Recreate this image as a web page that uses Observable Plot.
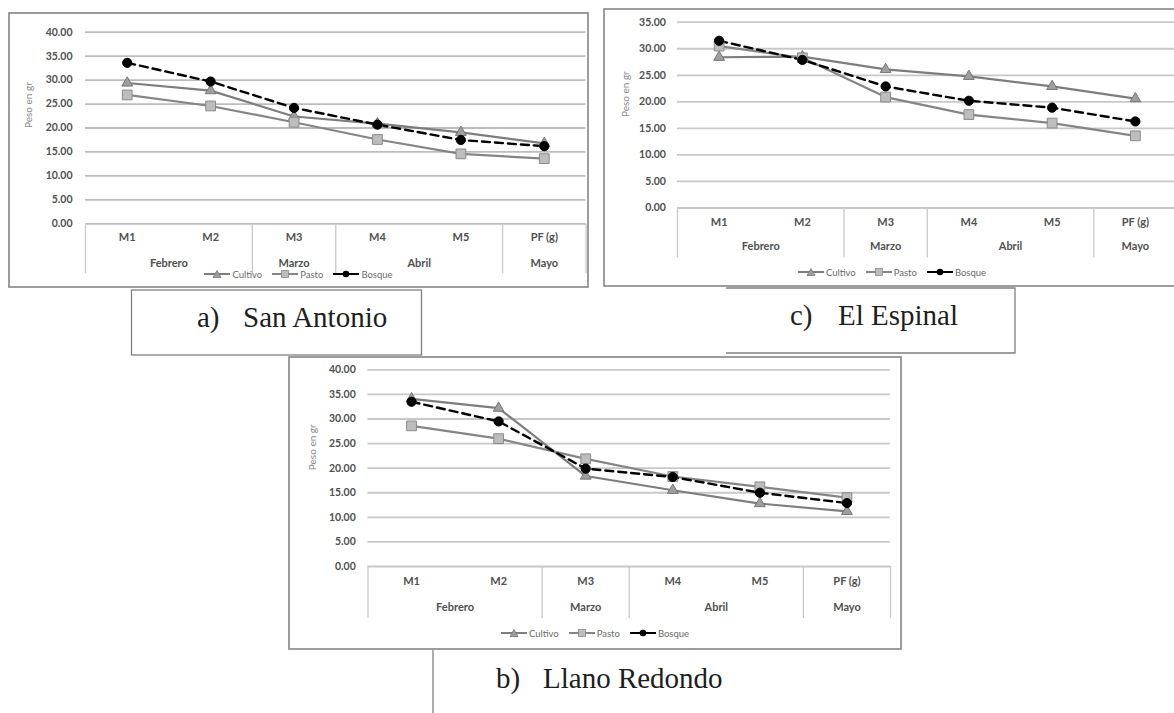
<!DOCTYPE html>
<html>
<head>
<meta charset="utf-8">
<script src="https://cdn.jsdelivr.net/npm/d3@7"></script>
<script src="https://cdn.jsdelivr.net/npm/@observablehq/plot@0.6"></script>
<style>
  html, body { margin: 0; padding: 0; background: #fff; }
  #page { position: relative; width: 1174px; height: 713px; overflow: hidden; background: #fff; }
  .panel { position: absolute; }
  .panel svg { overflow: visible; display: block; }
  .legend { position: absolute; left: 0; right: 0; display: flex; justify-content: center; align-items: center;
            font-family: Lato, "Open Sans", sans-serif; font-size: 9.5px; color: #6b6b6b; height: 12px; }
  .legend .item { display: flex; align-items: center; margin: 0 5px; }
  .legend svg { margin-right: 2px; }
  #overlay { position: absolute; left: 0; top: 0; pointer-events: none; }
</style>
</head>
<body>
<div id="page"></div>
<script>
// ---------- data ----------
const categories = ["M1", "M2", "M3", "M4", "M5", "PF (g)"];
const months = ["Febrero", "Febrero", "Marzo", "Abril", "Abril", "Mayo"];
const seriesNames = ["Cultivo", "Pasto", "Bosque"];
const yTickValues = [0, 5, 10, 15, 20, 25, 30, 35, 40];
const yTitle = "Peso en gr";

const sanAntonioCultivo = [29.4, 27.8, 22.4, 20.9, 19.1, 16.8];
const sanAntonioPasto   = [26.9, 24.6, 21.2, 17.6, 14.6, 13.6];
const sanAntonioBosque  = [33.6, 29.7, 24.2, 20.7, 17.5, 16.2];

const elEspinalCultivo = [28.4, 28.5, 26.1, 24.8, 22.9, 20.6];
const elEspinalPasto   = [30.5, 28.3, 20.9, 17.6, 16.0, 13.6];
const elEspinalBosque  = [31.5, 27.9, 22.9, 20.2, 18.9, 16.3];

const llanoRedondoCultivo = [34.1, 32.2, 18.4, 15.5, 12.8, 11.2];
const llanoRedondoPasto   = [28.6, 26.0, 21.9, 18.3, 16.2, 14.0];
const llanoRedondoBosque  = [33.5, 29.5, 19.9, 18.2, 15.0, 12.9];

const panelLabels = [
  {tag: "a)", name: "San Antonio"},
  {tag: "c)", name: "El Espinal"},
  {tag: "b)", name: "Llano Redondo"}
];

// ---------- styles ----------
const style = {
  Cultivo: {stroke: "#7d7d7d", width: 2.2, dash: null, symbol: "triangle", fill: "#9e9e9e", mstroke: "#777", r: 4},
  Pasto:   {stroke: "#858585", width: 2.2, dash: null, symbol: "square", fill: "#bdbdbd", mstroke: "#8a8a8a", r: 5.5},
  Bosque:  {stroke: "#000000", width: 2.4, dash: "8,5", symbol: "circle", fill: "#000", mstroke: "#000", r: 4.6}
};

// month groups from the months array
const groups = [];
months.forEach((m, i) => {
  const last = groups[groups.length - 1];
  if (last && last.name === m) last.end = i + 1;
  else groups.push({name: m, start: i, end: i + 1});
});
const bounds = [0, ...groups.map(g => g.end)];

const page = document.getElementById("page");

function makePanel(cfg) {
  const values = {Cultivo: cfg.cultivo, Pasto: cfg.pasto, Bosque: cfg.bosque};
  const rows = [];
  seriesNames.forEach(s => categories.forEach((c, i) => rows.push({series: s, cat: c, i, v: values[s][i]})));
  const ticks = yTickValues.filter(t => t <= cfg.yMax);
  const innerH = cfg.height - cfg.mt - cfg.mb;
  const font = "Lato, 'Open Sans', sans-serif";
  const marks = [
    Plot.ruleY(ticks, {stroke: cfg.grid, strokeWidth: 1.8}),
    Plot.ruleX(bounds, {x: d => d, insetTop: innerH, insetBottom: -cfg.sepLen, stroke: "#c9c9c9", strokeWidth: 1.3}),
    Plot.axisY({ticks, tickSize: 0, tickPadding: cfg.tickPad, tickFormat: d3.format(".2f"),
                fontWeight: "bold", fontSize: 10.5, fill: "#505050", label: null}),
    Plot.text([yTitle], {frameAnchor: "left", rotate: -90, dx: -cfg.titleOffset, dy: cfg.titleDy,
                         fontSize: 10, fill: "#8a8a8a"}),
    Plot.text(categories, {x: (d, i) => i + 0.5, frameAnchor: "bottom", dy: cfg.catDy,
                           fontWeight: "bold", fontSize: 11, fill: "#505050"}),
    Plot.text(groups, {x: d => (d.start + d.end) / 2, text: d => d.name, frameAnchor: "bottom", dy: cfg.monthDy,
                       fontWeight: "bold", fontSize: 11, fill: "#505050"})
  ];
  seriesNames.forEach(s => {
    const st = style[s];
    const data = rows.filter(d => d.series === s);
    marks.push(Plot.line(data, {x: d => d.i + 0.5, y: "v", stroke: st.stroke, strokeWidth: st.width,
                                strokeDasharray: st.dash || undefined}));
  });
  seriesNames.forEach(s => {
    const st = style[s];
    const data = rows.filter(d => d.series === s);
    marks.push(Plot.dot(data, {x: d => d.i + 0.5, y: "v", symbol: st.symbol, r: st.r,
                               fill: st.fill, stroke: st.mstroke, strokeWidth: 1}));
  });
  const chart = Plot.plot({
    width: cfg.width, height: cfg.height,
    marginLeft: cfg.ml, marginRight: cfg.mr, marginTop: cfg.mt, marginBottom: cfg.mb,
    x: {type: "linear", domain: [0, categories.length], axis: null},
    y: {domain: [0, cfg.yMax], axis: null},
    style: {fontFamily: font, background: "transparent", overflow: "visible"},
    marks
  });
  const div = document.createElement("div");
  div.className = "panel";
  div.style.left = cfg.left + "px";
  div.style.top = cfg.top + "px";
  div.style.width = cfg.width + "px";
  div.style.height = cfg.height + "px";
  div.appendChild(chart);
  // legend
  const leg = document.createElement("div");
  leg.className = "legend";
  leg.style.top = (cfg.legendY - 6) + "px";
  seriesNames.forEach(s => {
    const st = style[s];
    const item = document.createElement("div");
    item.className = "item";
    let sym;
    if (st.symbol === "triangle") sym = `<path d="M13,1.5 L17,8.5 L9,8.5 Z" fill="${st.fill}" stroke="${st.mstroke}" stroke-width="0.8"/>`;
    else if (st.symbol === "square") sym = `<rect x="9.5" y="1.5" width="7" height="7" fill="${st.fill}" stroke="${st.mstroke}" stroke-width="0.8"/>`;
    else sym = `<circle cx="13" cy="5" r="3.3" fill="#000"/>`;
    item.innerHTML = `<svg width="26" height="10"><line x1="0" y1="5" x2="26" y2="5" stroke="${s === 'Bosque' ? '#000' : st.stroke}" stroke-width="2"/>${sym}</svg><span>${s}</span>`;
    leg.appendChild(item);
  });
  div.appendChild(leg);
  page.appendChild(div);
}

makePanel({ // a) San Antonio
  cultivo: sanAntonioCultivo, pasto: sanAntonioPasto, bosque: sanAntonioBosque, yMax: 40, grid: "#bcbcbc",
  left: 9, top: 13, width: 579, height: 274, ml: 76, mr: 2.5, mt: 18.7, mb: 63.7,
  tickPad: 13, titleOffset: 57, titleDy: 0, catDy: 17, monthDy: 43, sepLen: 50, legendY: 261
});
makePanel({ // c) El Espinal
  cultivo: elEspinalCultivo, pasto: elEspinalPasto, bosque: elEspinalBosque, yMax: 35, grid: "#c8c8c8",
  left: 604, top: 9, width: 576, height: 277, ml: 73, mr: 3.5, mt: 12.7, mb: 78.5,
  tickPad: 11.6, titleOffset: 52, titleDy: 2, catDy: 18, monthDy: 42, sepLen: 50, legendY: 263
});
makePanel({ // b) Llano Redondo
  cultivo: llanoRedondoCultivo, pasto: llanoRedondoPasto, bosque: llanoRedondoBosque, yMax: 40, grid: "#c8c8c8",
  left: 289, top: 357, width: 612, height: 292, ml: 78.5, mr: 11, mt: 12.3, mb: 83,
  tickPad: 12.2, titleOffset: 55.7, titleDy: 2, catDy: 18, monthDy: 44, sepLen: 52, legendY: 276
});

// ---------- frames and panel captions ----------
const ns = "http://www.w3.org/2000/svg";
const ov = document.createElementNS(ns, "svg");
ov.setAttribute("id", "overlay");
ov.setAttribute("width", 1174);
ov.setAttribute("height", 713);
const frameColor = "#8c8c8c";
ov.innerHTML = `
  <rect x="9" y="13" width="579" height="274" fill="none" stroke="${frameColor}" stroke-width="1.7"/>
  <rect x="604" y="9" width="576" height="277" fill="none" stroke="${frameColor}" stroke-width="1.7"/>
  <rect x="289" y="357" width="612" height="292" fill="none" stroke="${frameColor}" stroke-width="1.7"/>
  <rect x="131.5" y="290" width="290" height="65" fill="none" stroke="#808080" stroke-width="1.3"/>
  <path d="M726,288 H1015 V353 H726" fill="none" stroke="#808080" stroke-width="1.3"/>
  <line x1="433" y1="650" x2="433" y2="713" stroke="#808080" stroke-width="1.3"/>
`;
const captions = [
  {lab: panelLabels[0], tx: 197, nx: 243, y: 327},
  {lab: panelLabels[1], tx: 790, nx: 838, y: 325},
  {lab: panelLabels[2], tx: 496, nx: 543, y: 688}
];
captions.forEach(c => {
  [[c.lab.tag, c.tx], [c.lab.name, c.nx]].forEach(([t, x]) => {
    const el = document.createElementNS(ns, "text");
    el.setAttribute("x", x);
    el.setAttribute("y", c.y);
    el.setAttribute("font-family", "'Liberation Serif', 'Times New Roman', serif");
    el.setAttribute("font-size", "29");
    el.setAttribute("fill", "#1e1e1e");
    el.textContent = t;
    ov.appendChild(el);
  });
});
page.appendChild(ov);
</script>
</body>
</html>
